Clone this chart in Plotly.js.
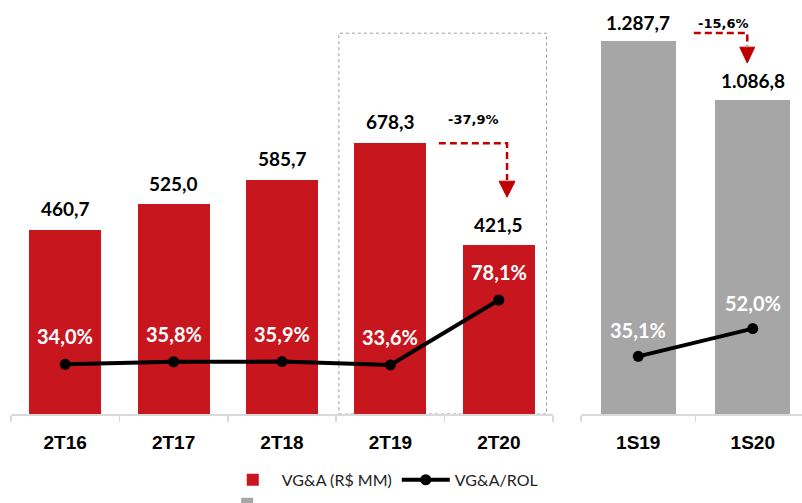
<!DOCTYPE html>
<html><head><meta charset="utf-8">
<script src="https://cdn.plot.ly/plotly-3.0.1.min.js"></script>
<style>html,body{margin:0;padding:0;background:#fff}#c{width:802px;height:503px}</style>
</head><body><div id="c"></div>
<script>
const quarters = ['2T16','2T17','2T18','2T19','2T20'];
const quarterVGA = [460.7, 525.0, 585.7, 678.3, 421.5];
const quarterRatio = [34.0, 35.8, 35.9, 33.6, 78.1];
const semesters = ['1S19','1S20'];
const semesterVGA = [1287.7, 1086.8];
const semesterRatio = [35.1, 52.0];
const changeQuarter = '-37,9%';
const changeSemester = '-15,6%';

function fmt(v){
  const p = v.toFixed(1).split('.');
  const i = p[0].replace(/\B(?=(\d{3})+(?!\d))/g,'.');
  return i + ',' + p[1];
}
const RED = '#C8161F', GRAY = '#A6A6A6', ARROW = '#C00000';
const numFont = {family:'Lato, sans-serif', size:19, color:'#000'};
const pctFont = {family:'Lato, sans-serif', size:20, color:'#fff'};
const chgFont = {family:'"DejaVu Sans", sans-serif', size:13, color:'#000'};

const traces = [
  {type:'bar', x:quarters, y:quarterVGA, xaxis:'x', yaxis:'y', marker:{color:RED}, width:0.665,
   name:'VG&A (R$ MM)', legend:'legend', hoverinfo:'skip'},
  {type:'scatter', mode:'lines+markers', x:quarters, y:quarterRatio, xaxis:'x', yaxis:'y2',
   line:{color:'#000', width:4}, marker:{color:'#000', size:11}, name:'VG&A/ROL', legend:'legend', hoverinfo:'skip'},
  {type:'bar', x:semesters, y:semesterVGA, xaxis:'x2', yaxis:'y3', marker:{color:GRAY}, width:0.655,
   name:' ', legend:'legend2', hoverinfo:'skip'},
  {type:'scatter', mode:'lines+markers', x:semesters, y:semesterRatio, xaxis:'x2', yaxis:'y4',
   line:{color:'#000', width:4}, marker:{color:'#000', size:11}, showlegend:false, hoverinfo:'skip'}
];

const annotations = [];
quarters.forEach((q,i)=>{
  annotations.push({x:q, y:quarterVGA[i], xref:'x', yref:'y', text:'<b>'+fmt(quarterVGA[i])+'</b>', showarrow:false, yshift:21, font:numFont});
  annotations.push({x:q, y:quarterRatio[i], xref:'x', yref:'y2', text:'<b>'+fmt(quarterRatio[i])+'%</b>', showarrow:false, yshift:28, font:pctFont});
});
semesters.forEach((q,i)=>{
  annotations.push({x:q, y:semesterVGA[i], xref:'x2', yref:'y3', text:'<b>'+fmt(semesterVGA[i])+'</b>', showarrow:false, yshift:19, font:numFont});
  annotations.push({x:q, y:semesterRatio[i], xref:'x2', yref:'y4', text:'<b>'+fmt(semesterRatio[i])+'%</b>', showarrow:false, yshift:26, font:pctFont});
});
annotations.push({x:3.77, y:737, xref:'x', yref:'y', text:'<b>'+changeQuarter+'</b>', showarrow:false, font:chgFont});
annotations.push({x:0.745, y:1351, xref:'x2', yref:'y3', text:'<b>'+changeSemester+'</b>', showarrow:false, font:chgFont});

const shapes = [
  {type:'rect', xref:'x', yref:'y', x0:2.525, x1:4.44, y0:0, y1:952, line:{color:'#9a9a9a', width:1, dash:'dot'}, layer:'below'},
  {type:'path', xref:'x', yref:'y', path:'M 3.447 677 L 4.076 677 L 4.076 585', line:{color:ARROW, width:2.5, dash:'7px,4px'}},
  {type:'path', xref:'x', yref:'y', path:'M 4.002 582 L 4.150 582 L 4.076 542 Z', fillcolor:ARROW, line:{color:ARROW, width:1}},
  {type:'path', xref:'x2', yref:'y3', path:'M 0.485 1317 L 0.952 1317 L 0.952 1272', line:{color:ARROW, width:2.5, dash:'7px,4px'}},
  {type:'path', xref:'x2', yref:'y3', path:'M 0.887 1268 L 1.017 1268 L 0.952 1213 Z', fillcolor:ARROW, line:{color:ARROW, width:1}}
];

const xcommon = {showline:true, linecolor:'#D9D9D9', linewidth:1.5, ticks:'outside', tickson:'boundaries', ticklen:6, tickcolor:'#D9D9D9', tickwidth:1.5,
  ticklabelstandoff:11,
  tickfont:{family:'"Liberation Sans Narrow", "Liberation Sans", sans-serif', size:19, color:'#000', weight:'bold'}, showgrid:false, zeroline:false, fixedrange:true, automargin:false};
const yhidden = {visible:false, showgrid:false, zeroline:false, fixedrange:true};
const legFont = {family:'Lato, sans-serif', size:16, color:'#222'};

const layout = {
  width:802, height:503, margin:{l:0, r:0, t:0, b:89, autoexpand:false},
  paper_bgcolor:'#fff', plot_bgcolor:'rgba(0,0,0,0)', showlegend:true,
  xaxis: Object.assign({}, xcommon, {domain:[11/802, 553/802], range:[-0.5,4.5], anchor:'y'}),
  xaxis2: Object.assign({}, xcommon, {domain:[581/802, 1], range:[-0.5,1.43], anchor:'y3'}),
  yaxis: Object.assign({}, yhidden, {range:[0,1035], anchor:'x'}),
  yaxis2: Object.assign({}, yhidden, {range:[0,283.6], overlaying:'y', anchor:'x'}),
  yaxis3: Object.assign({}, yhidden, {range:[0,1431], anchor:'x2'}),
  yaxis4: Object.assign({}, yhidden, {range:[0,252], overlaying:'y3', anchor:'x2'}),
  legend:{orientation:'h', x:0.279, y:-0.118, xanchor:'left', yanchor:'top', font:legFont, bgcolor:'rgba(0,0,0,0)', itemwidth:48},
  legend2:{orientation:'h', x:0.272, y:-0.176, xanchor:'left', yanchor:'top', font:legFont, bgcolor:'rgba(0,0,0,0)', itemwidth:48},
  annotations: annotations, shapes: shapes, bargap:0
};
Plotly.newPlot('c', traces, layout, {displayModeBar:false, staticPlot:true});
</script></body></html>
